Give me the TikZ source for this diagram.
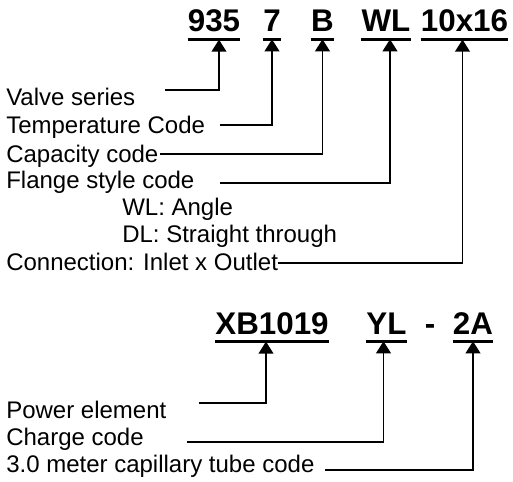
\documentclass[tikz,border=0pt]{standalone}
\usepackage{fontspec}
\setmainfont{Liberation Sans}
\usetikzlibrary{arrows.meta}

\begin{document}
\begin{tikzpicture}[x=0.75pt, y=-0.75pt]
  \tikzset{
    code/.style={font=\fontsize{23.5}{28}\selectfont\bfseries,
      inner xsep=0pt, inner ysep=5.25pt, anchor=base},
    lbl/.style={font=\fontsize{18}{22}\selectfont,
      inner sep=0pt, anchor=base west},
    uline/.style={line width=2.3pt},
    arr/.style={-{Triangle[length=9pt, width=11pt]}, line width=1.2pt}
  }
  \useasboundingbox (0,0) rectangle (513,481);
  % valve code
  \node[code] (c935) at (214,32) {935};
  \node[code] (c7) at (272,32) {7};
  \node[code] (cB) at (322.5,32) {B};
  \node[code] (cWL) at (386,32) {WL};
  \node[code] (cconn) at (464.5,32) {10x16};
  % power element code
  \node[code] (cpe) at (272,334) {XB1019};
  \node[code] (cch) at (386.5,334) {YL};
  \node[code] (cdash) at (430,334) {-};
  \node[code] (ccap) at (473,334) {2A};
  \foreach \c in {c935,c7,cB,cWL,cconn,cpe,cch,ccap}
    \draw[uline] (\c.south west) -- (\c.south east);
  % labels
  \node[lbl] (vs) at (6,106) {Valve series};
  \node[lbl] (tc) at (6,133) {Temperature Code};
  \node[lbl] (cc) at (6,162) {Capacity code};
  \node[lbl] (fs) at (6,188) {Flange style code};
  \node[lbl] (wl) at (122,215) {WL: Angle};
  \node[lbl] (dl) at (122,242) {DL: Straight through};
  \node[lbl] (cn) at (6,270) {Connection: Inlet x Outlet};
  \node[lbl] (pe) at (6,418) {Power element};
  \node[lbl] (ch) at (6,445) {Charge code};
  \node[lbl] (ct) at (6,472) {3.0 meter capillary tube code};
  % leader ends
  \coordinate (vs-end) at (165,90);
  \coordinate (tc-end) at (220,125);
  \coordinate (cc-end) at (160,154);
  \coordinate (fs-end) at (220,183);
  \coordinate (cn-end) at (278,263);
  \coordinate (pe-end) at (199,403);
  \coordinate (ch-end) at (187,442);
  \coordinate (ct-end) at (325,470);
  \draw[arr] (vs-end) -| ([xshift=3.75pt]c935.south);
  \draw[arr] (tc-end) -| (c7.south);
  \draw[arr] (cc-end) -| (cB.south);
  \draw[arr] (fs-end) -| ([xshift=3pt]cWL.south);
  \draw[arr] (cn-end) -| ([xshift=-1.5pt]cconn.south);
  \draw[arr] (pe-end) -| ([xshift=-4.5pt]cpe.south);
  \draw[arr] (ch-end) -| ([xshift=-2.25pt]cch.south);
  \draw[arr] (ct-end) -| (ccap.south);
\end{tikzpicture}
\end{document}
